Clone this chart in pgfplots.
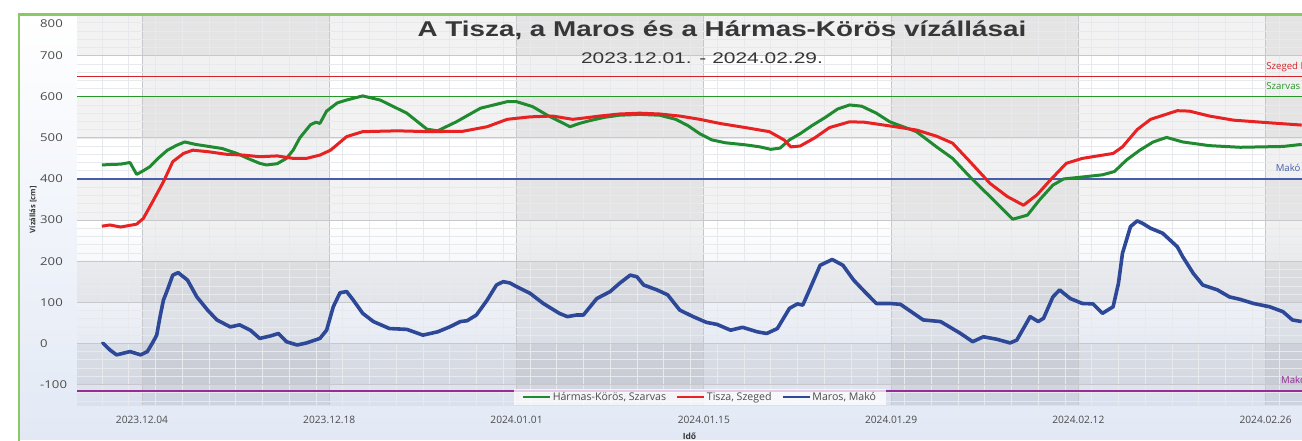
\documentclass[border=0pt]{standalone}
\usepackage{pgfplots}
\pgfplotsset{compat=1.18}
\usepackage{fontspec}
\setmainfont{Open Sans}
\newfontfamily\titlefont[FakeStretch=1.3]{Liberation Sans}
\newfontfamily\subfont[FakeStretch=1.36]{Liberation Sans}
\newfontfamily\ytfont[FakeStretch=1.22]{Open Sans}

\definecolor{cgreen}{RGB}{32,138,48}
\definecolor{cred}{RGB}{232,34,34}
\definecolor{cblue}{RGB}{46,72,152}
\definecolor{rgreen}{RGB}{40,150,40}
\definecolor{rred}{RGB}{210,35,40}
\definecolor{rblue}{RGB}{72,92,172}
\definecolor{rpurple}{RGB}{150,45,150}
\definecolor{framec}{RGB}{140,200,100}
\definecolor{pagebl}{RGB}{226,233,245}
\definecolor{plotbl}{RGB}{218,224,237}
\definecolor{txt}{RGB}{75,75,75}
\definecolor{titlec}{RGB}{55,55,55}

% day 0 = 2023.12.01
\pgfplotstableread{
d v
0.0 434
0.6 435
1.4 436
2.1 440
2.6 411
3.1 420
3.6 430
4.2 450
4.9 470
5.6 482
6.2 490
7.0 484
8.0 479
9.0 474
10.1 462
10.9 450
11.8 438
12.3 434
13.1 437
13.8 450
14.3 470
14.8 500
15.6 532
16.0 538
16.3 535
16.8 565
17.6 585
18.3 592
19.5 602
20.8 592
22.8 560
24.3 521
25.1 517
26.5 539
28.3 572
30.3 588
31.0 588
32.2 576
33.3 555
35.0 527
35.7 535
36.5 542
37.6 550
38.7 555
40.2 557
41.7 555
42.9 545
43.8 530
44.7 510
45.6 495
46.6 488
48.1 483
49.2 478
50.0 472
50.7 475
51.4 495
52.2 510
53.1 530
54.1 550
55.0 570
55.9 580
56.8 577
57.9 560
58.9 539
60.9 515
62.4 478
63.6 450
64.9 405
66.4 357
68.1 302
69.2 312
70.1 349
71.1 385
71.9 400
73.1 404
74.8 410
75.7 418
76.6 446
77.6 470
78.6 490
79.6 501
80.8 490
82.8 481
85.1 477
88.3 479
89.7 484
}\szarvas

\pgfplotstableread{
d v
0.0 285
0.6 288
1.4 283
2.6 290
3.1 304
3.8 345
4.6 393
5.3 442
6.1 462
6.8 470
8.0 466
9.3 460
10.6 458
11.8 454
13.1 456
14.3 450
15.3 450
16.3 458
17.1 470
18.3 503
19.5 515
22.1 517
24.5 515
27.0 516
28.8 527
30.3 545
32.0 551
33.7 553
35.2 545
36.5 550
37.2 553
38.7 558
40.2 560
41.7 558
43.2 553
44.7 545
46.2 535
48.1 525
49.9 515
51.0 495
51.5 478
52.2 480
53.3 500
54.4 525
55.9 539
57.0 538
58.9 529
60.9 519
62.4 504
63.6 487
64.9 442
66.4 389
67.7 357
68.9 336
69.9 361
70.9 397
72.1 438
73.3 450
75.6 462
76.3 478
77.4 520
78.4 545
80.4 566
81.3 565
82.8 553
84.6 543
87.1 537
89.7 531
}\szeged

\pgfplotstableread{
d v
0.0 -2
0.1 0
0.6 -16
1.1 -28
2.1 -20
2.9 -28
3.4 -20
3.8 2
4.1 20
4.35 65
4.6 105
4.9 130
5.3 166
5.7 172
6.4 154
7.1 113
7.9 81
8.6 57
9.6 40
10.3 45
11.1 32
11.8 12
12.6 18
13.2 24
13.8 4
14.6 -4
15.3 1
16.3 12
16.8 32
17.3 89
17.8 123
18.3 126
18.8 105
19.5 73
20.3 53
21.5 36
22.8 34
24.0 20
25.1 28
26.0 40
26.8 53
27.3 55
28.0 69
28.8 105
29.5 142
30.0 150
30.5 147
31.0 138
32.0 122
33.0 97
34.2 73
34.8 65
35.5 69
36.0 69
36.5 89
37.0 109
38.0 126
38.7 146
39.5 166
40.0 162
40.5 142
41.5 130
42.3 118
43.2 81
44.2 65
45.2 51
46.0 46
47.0 32
47.9 39
49.0 28
49.7 24
50.5 36
51.4 85
52.0 96
52.4 93
52.9 130
53.7 190
54.6 204
55.4 190
56.2 154
56.9 130
57.9 97
58.9 97
59.7 95
61.4 57
62.7 53
64.2 24
65.1 4
65.9 16
66.9 10
67.9 1
68.4 8
69.4 65
70.0 53
70.4 61
71.1 113
71.6 130
72.4 109
73.3 97
74.1 96
74.8 73
75.6 89
76.0 146
76.3 219
76.9 284
77.4 298
77.8 292
78.4 280
79.3 268
80.4 235
80.8 211
81.6 170
82.3 142
83.4 130
84.3 113
85.1 107
86.1 97
87.3 89
88.3 77
89.0 57
89.7 53
}\mako

\begin{document}
\begin{tikzpicture}
\begin{axis}[
    set layers, clip=false,
    at={(77pt,-405pt)}, anchor=south west,
    scale only axis, width=1225pt, height=390.5pt,
    xmin=-1.86, xmax=89.72, ymin=-150, ymax=800,
    axis line style={draw=none},
    tick style={draw=none},
    xtick={3,17,31,45,59,73,87},
    xticklabels={2023.12.04,2023.12.18,2024.01.01,2024.01.15,2024.01.29,2024.02.12,2024.02.26},
    minor xtick={0,2,...,88},
    ytick={-100,0,...,700},
    yticklabels={-100,0,100,200,300,400,500,600,700},
    extra y ticks={800}, extra y tick labels={800},
    extra y tick style={yticklabel style={yshift=-9.5pt}},
    minor ytick={-140,-120,...,800},
    grid=both,
    major grid style={draw={rgb,255:red,200;green,200;blue,204}, line width=0.9pt},
    minor grid style={draw={rgb,255:red,232;green,233;blue,237}, line width=0.6pt},
    xticklabel style={font=\fontsize{10.2}{12}\selectfont, text=txt, yshift=-8pt},
    yticklabel style={font=\ytfont\fontsize{10.8}{12}\selectfont, text=txt, anchor=west, inner sep=0pt, xshift=-37pt},
    xlabel={Idő},
    xlabel style={font=\bfseries\fontsize{8.5}{10}\selectfont, text=titlec, yshift=-2pt},
    ylabel={Vízállás [cm]},
    ylabel style={at={(axis description cs:-0.0359,0.5)}, anchor=center, font=\bfseries\fontsize{7.6}{9}\selectfont, text=titlec},
    legend style={at={(axis description cs:0.5086,0.0205)}, anchor=center, legend columns=3,
        draw=none, fill=white, fill opacity=0.75, text opacity=1,
        font=\fontsize{10.6}{12}\selectfont, text=txt, inner xsep=8pt, inner ysep=1pt,
        /tikz/every even column/.append style={column sep=8pt}},
    legend image code/.code={\draw[#1, line width=1.8pt] (0pt,0pt) -- (27pt,0pt);},
]
\begin{pgfonlayer}{axis background}
% chart page behind the plot area
\fill[white] (rel axis cs:-0.07,1.06) rectangle (rel axis cs:1.02,-0.1);
\shade[top color=white, bottom color=pagebl] (rel axis cs:-0.0473,1.0013) rectangle (rel axis cs:1.02,-0.0896);
% plot area
\fill[white] (axis cs:-1.86,300) rectangle (axis cs:89.72,800);
\shade[top color=white, bottom color=plotbl] (axis cs:-1.86,-150) rectangle (axis cs:89.72,300);
\fill[black, fill opacity=0.05] (axis cs:-1.86,700) rectangle (axis cs:89.72,800);
\fill[black, fill opacity=0.05] (axis cs:-1.86,500) rectangle (axis cs:89.72,600);
\fill[black, fill opacity=0.05] (axis cs:-1.86,300) rectangle (axis cs:89.72,400);
\fill[black, fill opacity=0.05] (axis cs:-1.86,100) rectangle (axis cs:89.72,200);
\fill[black, fill opacity=0.05] (axis cs:-1.86,-100) rectangle (axis cs:89.72,0);
\fill[black, fill opacity=0.055] (axis cs:3,-150) rectangle (axis cs:17,800);
\fill[black, fill opacity=0.055] (axis cs:31,-150) rectangle (axis cs:45,800);
\fill[black, fill opacity=0.055] (axis cs:59,-150) rectangle (axis cs:73,800);
\fill[black, fill opacity=0.055] (axis cs:87,-150) rectangle (axis cs:89.72,800);
\end{pgfonlayer}

\addplot[rred, line width=1.3pt, forget plot] coordinates {(-1.86,650) (89.72,650)};
\addplot[rgreen, line width=1.3pt, forget plot] coordinates {(-1.86,600) (89.72,600)};
\addplot[rblue, line width=1.5pt, forget plot] coordinates {(-1.86,400) (89.72,400)};
\addplot[rpurple, line width=2pt, forget plot] coordinates {(-1.86,-115) (89.72,-115)};

\addplot[cgreen, line width=3pt, line join=round] table[x=d, y=v] {\szarvas};
\addlegendentry{Hármas-Körös, Szarvas}
\addplot[cred, line width=3pt, line join=round] table[x=d, y=v] {\szeged};
\addlegendentry{Tisza, Szeged}
\addplot[cblue, line width=3.6pt, line join=round] table[x=d, y=v] {\mako};
\addlegendentry{Maros, Makó}

\node[anchor=base west, text=rred, font=\fontsize{9.6}{11}\selectfont] at (axis cs:86.8,667) {Szeged I. fok};
\node[anchor=base west, text=rgreen, font=\fontsize{9.6}{11}\selectfont] at (axis cs:86.8,617) {Szarvas I. fok};
\node[anchor=base west, text=rblue, font=\fontsize{9.6}{11}\selectfont] at (axis cs:87.5,417) {Makó I. fok};
\node[anchor=base west, text=rpurple, font=\fontsize{9.6}{11}\selectfont] at (axis cs:87.9,-98) {Makó LKV};
\end{axis}

\draw[framec, line width=2.5pt] (19pt,-450pt) -- (19pt,-14.3pt) -- (1320pt,-14.3pt);
\node[anchor=base, text=titlec, font=\titlefont\bfseries\fontsize{21.4}{24}\selectfont] at (722pt,-36pt) {A Tisza, a Maros és a Hármas-Körös vízállásai};
\node[anchor=base, text=titlec, font=\subfont\fontsize{15.4}{18}\selectfont] at (702pt,-63.3pt) {2023.12.01. - 2024.02.29.};
\pgfresetboundingbox
\useasboundingbox (0pt,0pt) rectangle (1302pt,-440pt);
\end{tikzpicture}
\end{document}
